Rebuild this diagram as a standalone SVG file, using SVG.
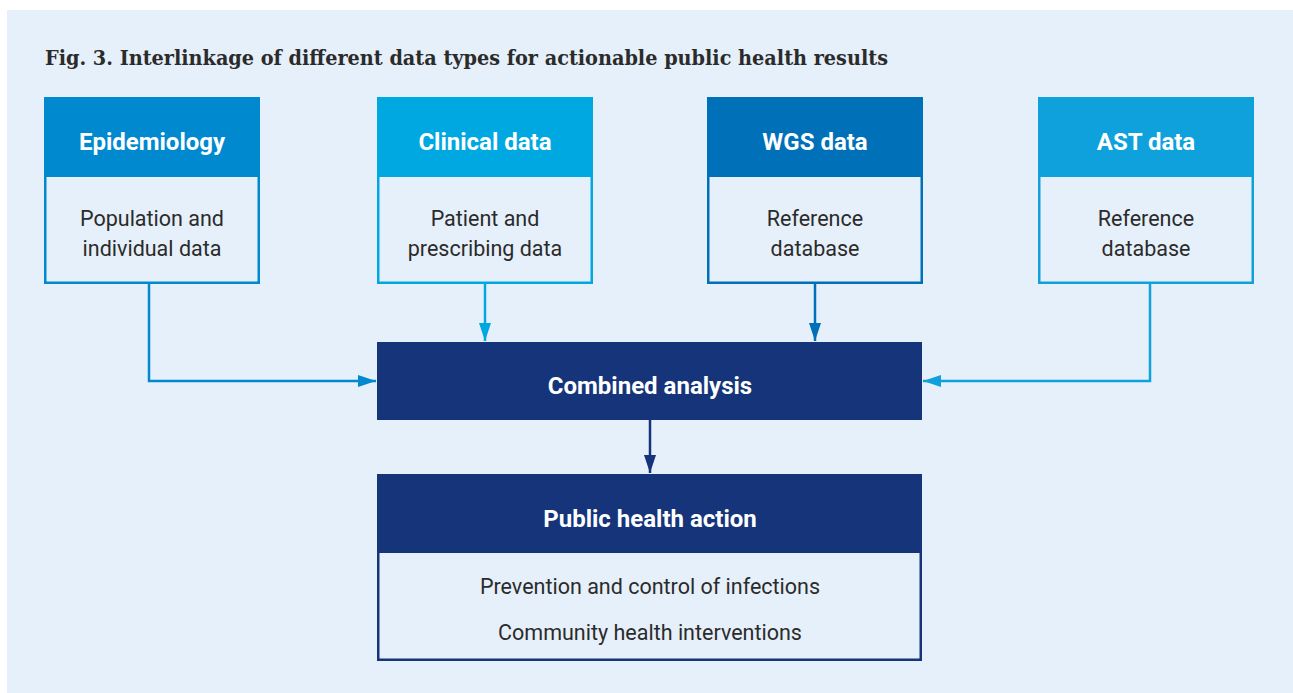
<svg xmlns="http://www.w3.org/2000/svg" width="1293" height="693" viewBox="0 0 1293 693">
<defs>
<style>
.hd{font-family:Roboto,"Liberation Sans",sans-serif;font-weight:bold;font-size:24px;fill:#ffffff;text-anchor:middle}
.bd{font-family:Roboto,"Liberation Sans",sans-serif;font-size:21.5px;fill:#2b2b2b;text-anchor:middle}
.ttl{font-family:"DejaVu Serif","Liberation Serif",serif;font-weight:bold;font-size:20.5px;fill:#2b2b2b}
.box{fill:#e6f0fa;stroke-width:2.5}
.ln{fill:none;stroke-width:2.5}
</style>
<marker id="aE" viewBox="0 0 18 12" refX="18" refY="6" markerWidth="18" markerHeight="12" markerUnits="userSpaceOnUse" orient="auto"><path d="M0,0 L18,6 L0,12 z" fill="#0089cf"/></marker>
<marker id="aC" viewBox="0 0 18 12" refX="18" refY="6" markerWidth="18" markerHeight="12" markerUnits="userSpaceOnUse" orient="auto"><path d="M0,0 L18,6 L0,12 z" fill="#00a8e1"/></marker>
<marker id="aW" viewBox="0 0 18 12" refX="18" refY="6" markerWidth="18" markerHeight="12" markerUnits="userSpaceOnUse" orient="auto"><path d="M0,0 L18,6 L0,12 z" fill="#0070b8"/></marker>
<marker id="aA" viewBox="0 0 18 12" refX="18" refY="6" markerWidth="18" markerHeight="12" markerUnits="userSpaceOnUse" orient="auto"><path d="M0,0 L18,6 L0,12 z" fill="#0ea1dc"/></marker>
<marker id="aN" viewBox="0 0 18 12" refX="18" refY="6" markerWidth="18" markerHeight="12" markerUnits="userSpaceOnUse" orient="auto"><path d="M0,0 L18,6 L0,12 z" fill="#15347a"/></marker>
</defs>
<rect x="0" y="0" width="1293" height="693" fill="#ffffff"/>
<rect x="7" y="10" width="1286" height="683" fill="#e6f0fa"/>
<text class="ttl" x="45" y="65" textLength="843" lengthAdjust="spacingAndGlyphs">Fig. 3. Interlinkage of different data types for actionable public health results</text>

<g id="connectors">
<path class="ln" stroke="#0089cf" d="M149,284 V381 H376" marker-end="url(#aE)"/>
<path class="ln" stroke="#00a8e1" d="M485,284 V341" marker-end="url(#aC)"/>
<path class="ln" stroke="#0070b8" d="M815,284 V341" marker-end="url(#aW)"/>
<path class="ln" stroke="#0ea1dc" d="M1150,284 V381 H923" marker-end="url(#aA)"/>
<path class="ln" stroke="#15347a" d="M650,420 V473" marker-end="url(#aN)"/>
</g>

<g id="epidemiology">
<rect class="box" x="45.25" y="98.25" width="213.5" height="184.5" stroke="#0089cf"/>
<rect x="44" y="97" width="216" height="80" fill="#0089cf"/>
<text class="hd" x="152" y="150">Epidemiology</text>
<text class="bd" x="152" y="226">Population and</text>
<text class="bd" x="152" y="256">individual data</text>
</g>

<g id="clinical">
<rect class="box" x="378.25" y="98.25" width="213.5" height="184.5" stroke="#00a8e1"/>
<rect x="377" y="97" width="216" height="80" fill="#00a8e1"/>
<text class="hd" x="485" y="150">Clinical data</text>
<text class="bd" x="485" y="226">Patient and</text>
<text class="bd" x="485" y="256">prescribing data</text>
</g>

<g id="wgs">
<rect class="box" x="708.25" y="98.25" width="213.5" height="184.5" stroke="#0070b8"/>
<rect x="707" y="97" width="216" height="80" fill="#0070b8"/>
<text class="hd" x="815" y="150">WGS data</text>
<text class="bd" x="815" y="226">Reference</text>
<text class="bd" x="815" y="256">database</text>
</g>

<g id="ast">
<rect class="box" x="1039.25" y="98.25" width="213.5" height="184.5" stroke="#0ea1dc"/>
<rect x="1038" y="97" width="216" height="80" fill="#0ea1dc"/>
<text class="hd" x="1146" y="150">AST data</text>
<text class="bd" x="1146" y="226">Reference</text>
<text class="bd" x="1146" y="256">database</text>
</g>

<g id="combined">
<rect x="377" y="342" width="545" height="78" fill="#15347a"/>
<text class="hd" x="650" y="394">Combined analysis</text>
</g>

<g id="public-health">
<rect class="box" x="378.25" y="475.25" width="542.5" height="184.5" stroke="#15347a"/>
<rect x="377" y="474" width="545" height="79" fill="#15347a"/>
<text class="hd" x="650" y="527">Public health action</text>
<text class="bd" x="650" y="594">Prevention and control of infections</text>
<text class="bd" x="650" y="640">Community health interventions</text>
</g>
</svg>
